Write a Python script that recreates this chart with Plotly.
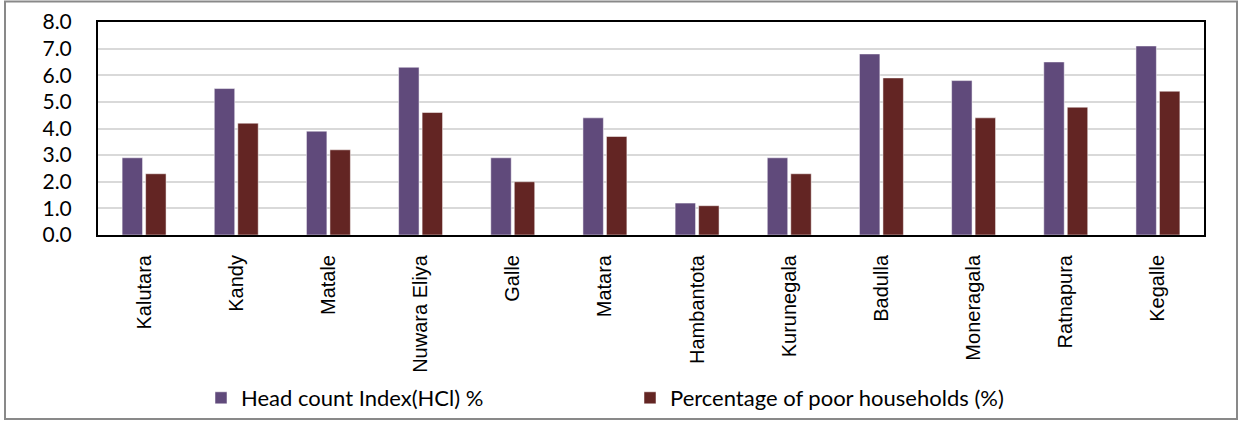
import plotly.graph_objects as go

districts = ["Kalutara", "Kandy", "Matale", "Nuwara Eliya", "Galle", "Matara",
             "Hambantota", "Kurunegala", "Badulla", "Moneragala", "Ratnapura", "Kegalle"]
hci = [2.9, 5.5, 3.9, 6.3, 2.9, 4.4, 1.2, 2.9, 6.8, 5.8, 6.5, 7.1]
poor_households = [2.3, 4.2, 3.2, 4.6, 2.0, 3.7, 1.1, 2.3, 5.9, 4.4, 4.8, 5.4]
y_ticks = [0, 1, 2, 3, 4, 5, 6, 7, 8]

W, H = 1246, 422
L, R, T, B = 98, 1204, 22, 235

fig = go.Figure()
fig.add_trace(go.Bar(x=districts, y=hci, name="Head count Index(HCl) %",
                     marker=dict(color="#604A7B", line=dict(color="#ffffff", width=0.5))))
fig.add_trace(go.Bar(x=districts, y=poor_households, name="Percentage of poor households (%)",
                     marker=dict(color="#632523", line=dict(color="#ffffff", width=0.5))))

def px_x(x):
    return (x - L) / (R - L)

def px_y(y):
    return (B - y) / (B - T)

fig.add_shape(type="rect", xref="paper", yref="paper",
              x0=px_x(5), x1=px_x(1237), y0=px_y(419), y1=px_y(1.5),
              line=dict(color="#898989", width=2), layer="below")

fig.update_layout(
    width=W, height=H,
    margin=dict(l=L, r=W - R, t=T, b=H - B, autoexpand=False),
    paper_bgcolor="white", plot_bgcolor="white",
    barmode="group", bargap=0.49, bargroupgap=0.13,
    font=dict(family="Lato, Arial, sans-serif", color="#000000"),
    showlegend=True,
    legend=dict(orientation="h", x=px_x(201), y=px_y(398), yanchor="middle", xanchor="left",
                font=dict(size=22, family="Lato, sans-serif"),
                entrywidth=384, entrywidthmode="pixels", itemwidth=30,
                bgcolor="rgba(0,0,0,0)"),
    xaxis=dict(tickangle=-90, tickfont=dict(size=20, family="Arial, Liberation Sans, sans-serif"),
               showline=True, linecolor="#000000", linewidth=2, mirror=True,
               ticks="", showgrid=False, ticklabelstandoff=10, automargin=False),
    yaxis=dict(range=[0, 8], tickvals=y_ticks, tickformat=".1f",
               tickfont=dict(size=21, family="Lato, sans-serif"),
               showline=True, linecolor="#000000", linewidth=2, mirror=True,
               showgrid=True, gridcolor="#d9d9d9", gridwidth=1.5,
               ticks="", ticklabelstandoff=20, zeroline=False, automargin=False),
)

fig.write_html("out.html", config={"displayModeBar": False},
               post_script="document.body.style.margin='0';document.body.style.overflow='hidden';")
